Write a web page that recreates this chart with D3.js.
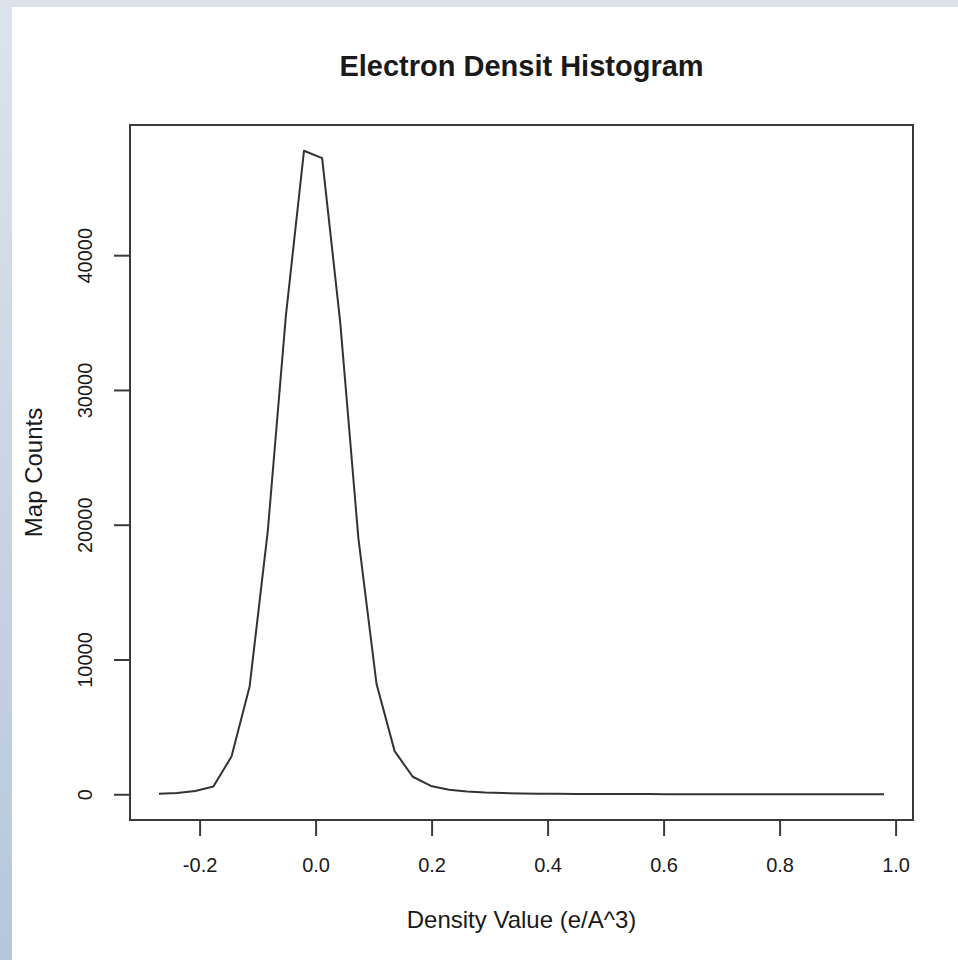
<!DOCTYPE html>
<html>
<head>
<meta charset="utf-8">
<script src="https://cdn.jsdelivr.net/npm/d3@7"></script>
<style>
  html, body { margin: 0; padding: 0; background: #ffffff; }
  svg { display: block; }
  text { font-family: "Liberation Sans", Arial, Helvetica, sans-serif; fill: #1a1a1a; }
</style>
</head>
<body>
<script>
// ---- data ----
const title = "Electron Densit Histogram";
const xLabel = "Density Value (e/A^3)";
const yLabel = "Map Counts";
const densityValues = [
  -0.27, -0.23875, -0.2075, -0.17625, -0.145, -0.11375, -0.0825, -0.05125,
  -0.02, 0.01125, 0.0425, 0.07375, 0.105, 0.13625, 0.1675, 0.19875,
  0.23, 0.26125, 0.2925, 0.32375, 0.355, 0.38625, 0.4175, 0.44875,
  0.48, 0.51125, 0.5425, 0.57375, 0.605, 0.63625, 0.6675, 0.69875,
  0.73, 0.76125, 0.7925, 0.82375, 0.855, 0.88625, 0.9175, 0.94875, 0.98
];
const mapCounts = [
  40, 90, 240, 580, 2800, 8000, 19500, 35500,
  47750, 47200, 35000, 19000, 8200, 3200, 1300, 620,
  330, 200, 130, 90, 60, 45, 35, 25,
  20, 15, 12, 10, 8, 6, 5, 4,
  3, 3, 2, 2, 2, 1, 1, 1, 1
];
const xTicks = [-0.2, 0.0, 0.2, 0.4, 0.6, 0.8, 1.0];
const xTickLabels = ["-0.2", "0.0", "0.2", "0.4", "0.6", "0.8", "1.0"];
const yTicks = [0, 10000, 20000, 30000, 40000];
const yTickLabels = ["0", "10000", "20000", "30000", "40000"];

// ---- layout ----
const W = 958, H = 960;
const box = { left: 130, right: 913, top: 125, bottom: 820 };

const svg = d3.select("body").append("svg")
  .attr("width", W).attr("height", H);

// page background: bluish frame at top and left
const defs = svg.append("defs");
const grad = defs.append("linearGradient").attr("id", "leftGrad")
  .attr("x1", 0).attr("y1", 0).attr("x2", 0).attr("y2", 1);
grad.append("stop").attr("offset", "0%").attr("stop-color", "#dde3ec");
grad.append("stop").attr("offset", "100%").attr("stop-color", "#b6c7dc");
svg.append("rect").attr("x", 0).attr("y", 0).attr("width", W).attr("height", H)
  .attr("fill", "url(#leftGrad)");
svg.append("rect").attr("x", 0).attr("y", 0).attr("width", W).attr("height", 7)
  .attr("fill", "#dde2ea");
svg.append("rect").attr("x", 12).attr("y", 7).attr("width", W - 12).attr("height", H - 7)
  .attr("fill", "#ffffff");

// ---- scales (R style: 4% padding beyond the data range) ----
const xExt = d3.extent(densityValues);
const xPad = (xExt[1] - xExt[0]) * 0.04;
const x = d3.scaleLinear().domain([xExt[0] - xPad, xExt[1] + xPad])
  .range([box.left, box.right]);
const yMax = d3.max(mapCounts);
const yPad = yMax * 0.04;
const y = d3.scaleLinear().domain([-yPad, yMax + yPad])
  .range([box.bottom, box.top]);

const ink = "#2b2b2b";

// ---- plot line ----
const line = d3.line().x((d, i) => x(densityValues[i])).y(d => y(d));
svg.append("path").datum(mapCounts)
  .attr("d", line)
  .attr("fill", "none")
  .attr("stroke", "#333333")
  .attr("stroke-width", 2)
  .attr("stroke-linejoin", "round");

// ---- box ----
svg.append("rect")
  .attr("x", box.left).attr("y", box.top)
  .attr("width", box.right - box.left).attr("height", box.bottom - box.top)
  .attr("fill", "none").attr("stroke", "#3a3a3a").attr("stroke-width", 2);

// ---- x axis ----
const xAxis = d3.axisBottom(x).tickValues(xTicks)
  .tickFormat((d, i) => xTickLabels[i]).tickSize(16).tickPadding(20);
const gx = svg.append("g").attr("transform", `translate(0,${box.bottom})`).call(xAxis);
gx.select(".domain").attr("stroke", "#3a3a3a").attr("stroke-width", 2)
  .attr("d", `M${x(xTicks[0])},0H${x(xTicks[xTicks.length - 1])}`);
gx.selectAll(".tick line").attr("stroke", "#3a3a3a").attr("stroke-width", 2);
gx.selectAll(".tick text")
  .attr("fill", "#1a1a1a")
  .style("font-family", "'Liberation Sans', Arial, sans-serif")
  .style("font-size", "20px")
  .attr("y", 52).attr("dy", null);

// ---- y axis ----
const yAxis = d3.axisLeft(y).tickValues(yTicks)
  .tickFormat((d, i) => yTickLabels[i]).tickSize(16);
const gy = svg.append("g").attr("transform", `translate(${box.left},0)`).call(yAxis);
gy.select(".domain").attr("stroke", "#3a3a3a").attr("stroke-width", 2)
  .attr("d", `M0,${y(yTicks[0])}V${y(yTicks[yTicks.length - 1])}`);
gy.selectAll(".tick line").attr("stroke", "#3a3a3a").attr("stroke-width", 2);
gy.selectAll(".tick text")
  .attr("fill", "#1a1a1a")
  .style("font-family", "'Liberation Sans', Arial, sans-serif")
  .style("font-size", "20px")
  .attr("x", null).attr("dy", null)
  .attr("text-anchor", "middle")
  .attr("transform", "translate(-38,0) rotate(-90)");

// ---- titles ----
const cx = (box.left + box.right) / 2;
svg.append("text")
  .attr("x", cx).attr("y", 76)
  .attr("text-anchor", "middle")
  .style("font-size", "29px").style("font-weight", "bold")
  .attr("fill", "#111")
  .text(title);

svg.append("text")
  .attr("x", cx).attr("y", 928)
  .attr("text-anchor", "middle")
  .style("font-size", "24px")
  .text(xLabel);

svg.append("text")
  .attr("transform", `translate(42,${(box.top + box.bottom) / 2}) rotate(-90)`)
  .attr("text-anchor", "middle")
  .style("font-size", "24px")
  .text(yLabel);
</script>
</body>
</html>
